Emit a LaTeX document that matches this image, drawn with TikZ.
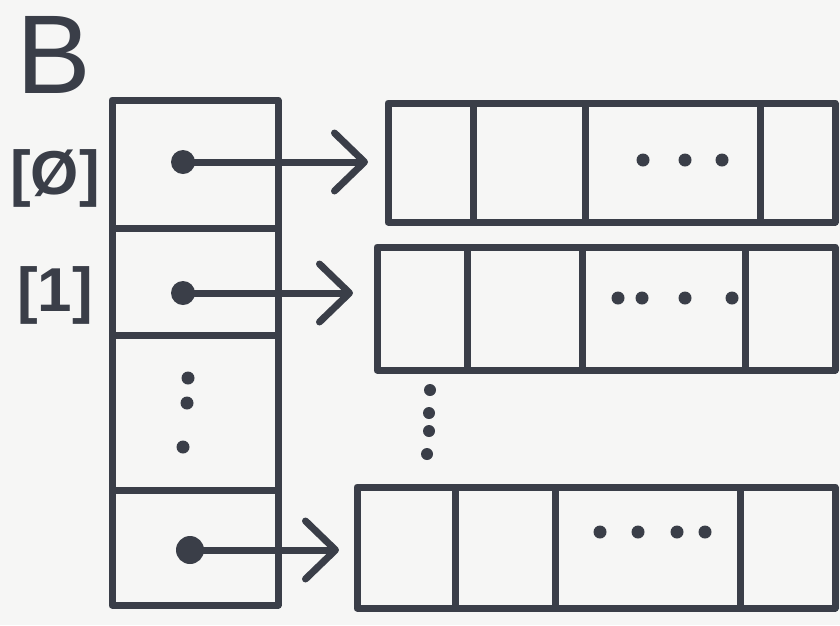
\documentclass[tikz,border=0pt]{standalone}
\usepackage{fontspec}
\setmainfont{Liberation Sans}
\usetikzlibrary{arrows.meta,positioning}
\definecolor{ink}{RGB}{58,62,72}
\definecolor{paper}{RGB}{246,246,245}
\tikzset{
  slot/.style={draw=ink, line width=7pt, line join=round, rectangle, inner sep=0pt, outer sep=0pt},
  ptrdot/.style={circle, fill=ink, inner sep=0pt, minimum size=24pt},
  ptr/.style={draw=ink, line width=7pt, line cap=round, line join=round,
    -{Straight Barb[length=30pt,width=58pt,line cap=round,line join=round]}},
  ellip/.style={fill=ink},
}
\begin{document}
\begin{tikzpicture}[x=1pt,y=-1pt]
\fill[paper] (0,0) rectangle (840,625);
\useasboundingbox (0,0) rectangle (840,625);
% array B of pointers
\node[slot, minimum width=166pt, minimum height=128pt] (b0) at (195,164) {};
\node[slot, minimum width=166pt, minimum height=107pt, below=0pt of b0] (b1) {};
\node[slot, minimum width=166pt, minimum height=155pt, below=0pt of b1] (bdots) {};
\node[slot, minimum width=166pt, minimum height=115pt, below=0pt of bdots] (bn) {};
% labels
\node[text=ink, font=\fontsize{112}{112}\selectfont] (name) at (54,55) {B};
\node[text=ink, font=\bfseries\fontsize{62}{62}\selectfont] (idx0) at (55,178) {[Ø]};
\node[text=ink, font=\bfseries\fontsize{62}{62}\selectfont] (idx1) at (55,295) {[1]};
% the pointed-to arrays
\foreach \r/\top/\bot/\xa/\xb/\xc/\xd in {0/103/222/388/473/585/760, 1/247/370/377/467/582/745, 2/487/608/357/455/555/740}{
  \foreach \c/\l/\rr in {0/\xa/\xb, 1/\xb/\xc, 2/\xc/\xd, 3/\xd/835}
    \node[slot, anchor=north west, minimum width=\rr pt-\l pt, minimum height=\bot pt-\top pt]
      (r\r c\c) at (\l,\top) {};
}
% dots inside the rows
\foreach \x in {643,685,722} \fill[ellip] (\x,160) circle (6.5);
\foreach \x in {618,642,685,732} \fill[ellip] (\x,298) circle (6.5);
\foreach \x in {600,638,677,705} \fill[ellip] (\x,532) circle (6.5);
% vertical dots
\foreach \p in {(188,378),(187,403),(183,447)} \fill[ellip] \p circle (6.5);
\foreach \p in {(430,390),(429,413),(429,431),(427,454)} \fill[ellip] \p circle (6);
% pointers
\node[ptrdot] (p0) at (183,162) {};
\node[ptrdot] (p1) at (183,293) {};
\node[ptrdot, minimum size=28pt] (pn) at (190,550) {};
\draw[ptr] (p0.center) -- ([xshift=-20pt]p0 -| r0c0.west);
\draw[ptr] (p1.center) -- ([xshift=-24pt]p1 -| r1c0.west);
\draw[ptr] (pn.center) -- ([xshift=-18pt]pn -| r2c0.west);
\end{tikzpicture}
\end{document}
